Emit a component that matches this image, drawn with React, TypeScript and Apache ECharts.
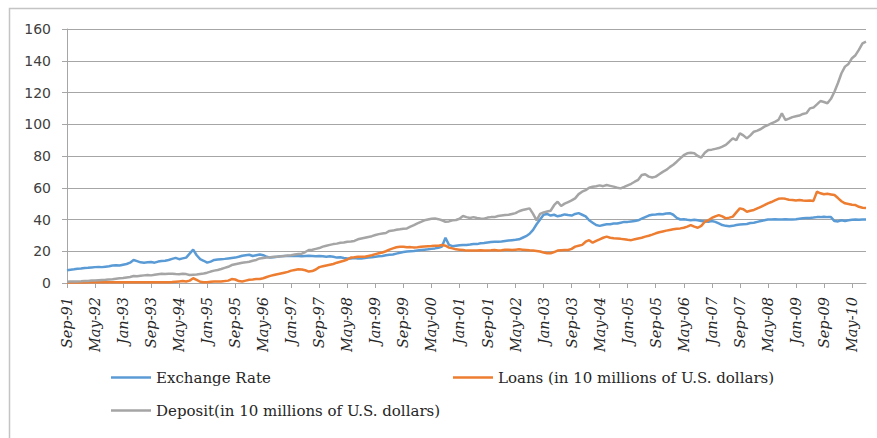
import React, { useEffect, useRef } from "react";
import * as echarts from "echarts";

const MONTHS = ["Jan", "Feb", "Mar", "Apr", "May", "Jun", "Jul", "Aug", "Sep", "Oct", "Nov", "Dec"];
// Monthly categories Sep-91 .. Sep-10
const categories: string[] = [];
for (let i = 0; i < 229; i++) {
  const k = 8 + i;
  const yr = (91 + Math.floor(k / 12)) % 100;
  categories.push(MONTHS[k % 12] + "-" + (yr < 10 ? "0" + yr : String(yr)));
}

const yTicks = [0, 20, 40, 60, 80, 100, 120, 140, 160];

const exchangeRate = [
  8.0, 8.3, 8.6, 9.0,
  9.2, 9.5, 9.6, 9.8, 10.0, 10.1, 10.0, 10.3, 10.6, 11.0, 11.2, 11.0,
  11.5, 12.0, 12.8, 14.5, 13.8, 13.0, 12.8, 13.0, 13.2, 12.8, 13.5, 13.8,
  14.0, 14.5, 15.2, 15.8, 15.0, 15.5, 16.0, 18.5, 21.0, 17.5, 15.0, 14.0,
  12.8, 13.5, 14.5, 14.8, 15.0, 15.2, 15.5, 15.8, 16.0, 16.5, 17.2, 17.5,
  17.8, 17.0, 17.5, 18.0, 17.5, 16.5, 16.0, 16.2, 16.5, 16.8, 17.0, 17.0,
  17.0, 17.2, 17.0, 16.8, 17.0, 17.2, 17.0, 16.8, 17.0, 16.8, 16.5, 16.8,
  16.5, 16.0, 16.2, 15.8, 15.5, 15.5, 15.8, 15.5, 15.5, 15.8, 16.0, 16.2,
  16.5, 16.8, 17.0, 17.5, 17.8, 18.0, 18.5, 19.0, 19.5, 19.8, 20.0, 20.2,
  20.5, 20.8, 21.0, 21.2, 21.5, 21.8, 22.2, 23.0, 28.5, 24.0, 23.2, 23.5,
  23.8, 24.0, 24.0, 24.2, 24.5, 24.5, 25.0, 25.2, 25.5, 25.8, 26.0, 26.0,
  26.2, 26.5, 26.8, 27.0, 27.2, 27.5, 28.5, 29.5, 31.0, 33.5, 37.0, 40.0,
  43.0, 43.5, 42.5, 43.0, 42.0, 42.5, 43.2, 42.8, 42.5, 43.5, 44.0, 43.0,
  42.0, 39.5, 38.0, 36.5, 36.0, 36.5, 37.0, 37.0, 37.5, 37.5, 38.0, 38.5,
  38.5, 38.8, 39.0, 39.5, 40.5, 41.5, 42.5, 43.0, 43.2, 43.5, 43.3, 43.8,
  44.0, 43.0, 41.0, 40.0, 40.2, 39.8, 39.5, 39.8, 39.5, 39.0, 38.8, 38.5,
  39.0, 38.5, 37.5, 36.5, 36.0, 35.8, 36.0, 36.5, 36.8, 37.0, 37.2, 37.8,
  38.0, 38.5, 39.0, 39.5, 40.0, 40.0, 40.2, 40.0, 40.0, 40.2, 40.0, 40.0,
  40.2, 40.5, 40.8, 41.0, 41.0, 41.2, 41.5, 41.5, 41.8, 41.5, 41.5, 39.0,
  38.8, 39.5, 39.0, 39.5, 39.8, 40.0, 39.8, 40.0, 40.0,
];

const loans = [
  0.3, 0.3, 0.3, 0.3,
  0.3, 0.3, 0.4, 0.4, 0.4, 0.4, 0.4, 0.4, 0.5, 0.5, 0.5, 0.5,
  0.5, 0.5, 0.5, 0.5, 0.5, 0.5, 0.5, 0.5, 0.5, 0.5, 0.5, 0.5,
  0.5, 0.5, 0.6, 0.8, 1.0, 1.2, 1.0, 1.5, 3.0, 2.0, 0.8, 0.5,
  0.5, 0.8, 1.0, 1.0, 1.0, 1.2, 1.5, 2.5, 2.2, 1.2, 1.0, 1.5,
  2.0, 2.2, 2.5, 2.5, 3.0, 3.8, 4.5, 5.0, 5.5, 6.0, 6.5, 7.0,
  7.8, 8.2, 8.6, 8.5, 8.0, 7.2, 7.5, 8.5, 10.0, 10.5, 11.0, 11.5,
  12.0, 12.8, 13.4, 14.0, 14.8, 16.0, 16.2, 16.5, 16.6, 16.5, 17.0, 17.5,
  18.2, 18.7, 19.2, 20.0, 21.0, 21.8, 22.5, 22.8, 22.9, 22.5, 22.6, 22.4,
  22.5, 22.8, 23.0, 23.2, 23.3, 23.5, 23.5, 23.9, 23.5, 22.3, 21.8, 21.2,
  21.0, 20.8, 20.4, 20.5, 20.4, 20.5, 20.6, 20.4, 20.5, 20.6, 20.8, 20.5,
  20.7, 21.0, 21.0, 20.8, 21.0, 21.2, 21.0, 20.8, 20.6, 20.5, 20.2, 19.8,
  19.2, 18.8, 18.7, 19.5, 20.4, 20.6, 20.8, 20.8, 21.5, 22.9, 23.5, 24.0,
  26.0, 27.0, 25.4, 26.5, 27.5, 28.5, 29.2, 28.5, 28.2, 28.0, 27.8, 27.5,
  27.2, 27.0, 27.5, 28.0, 28.5, 29.2, 29.8, 30.5, 31.3, 32.0, 32.5, 33.0,
  33.4, 33.8, 34.2, 34.4, 34.8, 35.5, 36.5, 35.5, 34.8, 36.0, 38.6, 39.5,
  41.0, 42.0, 42.8, 42.0, 40.7, 41.2, 41.8, 44.5, 47.0, 46.5, 44.9, 45.5,
  46.0, 47.0, 48.0, 49.0, 50.2, 51.0, 52.0, 53.0, 53.3, 53.0, 52.5, 52.3,
  52.0, 52.3, 52.0, 51.8, 52.0, 51.7, 57.5, 56.5, 55.9, 56.2, 55.8, 55.4,
  53.5, 51.5, 50.2, 49.8, 49.3, 49.1, 48.0, 47.4, 47.2,
];

const deposit = [
  0.8, 0.9, 1.0, 1.0,
  1.1, 1.2, 1.3, 1.5, 1.6, 1.8, 1.9, 2.0, 2.2, 2.4, 2.7, 3.0,
  3.2, 3.5, 3.8, 4.4, 4.2, 4.5, 4.8, 5.0, 4.8, 5.2, 5.5, 5.8,
  5.7, 5.9, 5.8, 5.6, 5.5, 5.8, 5.6, 5.0, 5.2, 5.4, 5.7, 6.0,
  6.5, 7.2, 7.8, 8.2, 8.8, 9.5, 10.2, 11.3, 11.8, 12.3, 12.8, 13.0,
  13.4, 14.0, 14.5, 15.5, 15.8, 16.0, 16.2, 16.5, 16.6, 16.8, 17.0, 17.3,
  17.5, 18.0, 18.3, 18.5, 19.5, 20.8, 21.0, 21.5, 22.0, 22.9, 23.5, 24.0,
  24.5, 24.8, 25.4, 25.5, 26.0, 26.2, 26.5, 27.5, 28.0, 28.5, 29.0, 29.5,
  30.2, 30.8, 31.2, 31.5, 32.8, 33.0, 33.5, 33.8, 34.2, 34.4, 35.5, 36.5,
  37.6, 38.5, 39.5, 40.0, 40.5, 40.7, 40.2, 39.5, 38.6, 38.8, 39.5, 39.7,
  40.5, 42.2, 41.5, 41.0, 41.5, 41.0, 40.7, 40.5, 41.2, 41.5, 41.5, 42.2,
  42.5, 42.8, 43.0, 43.5, 44.0, 45.2, 46.0, 46.5, 47.0, 43.5, 39.5, 43.5,
  44.5, 45.0, 45.5, 49.0, 51.2, 48.5, 50.0, 51.0, 52.0, 53.3, 56.0, 57.5,
  58.5, 60.0, 60.7, 61.0, 61.5, 61.0, 61.7, 61.2, 60.7, 60.0, 59.6, 60.5,
  61.5, 62.5, 63.8, 65.0, 68.0, 68.5, 67.0, 66.5, 67.0, 68.5, 70.0, 71.2,
  73.0, 74.5, 76.4, 78.5, 80.5, 81.7, 82.0, 81.7, 80.0, 79.0, 82.0, 83.8,
  84.0, 84.5, 85.0, 85.9, 87.0, 89.0, 91.1, 90.0, 94.3, 93.0, 91.1, 93.0,
  95.3, 96.0, 97.0, 98.5, 99.5, 100.5, 101.5, 102.7, 106.9, 102.7, 103.5, 104.5,
  105.0, 105.5, 106.5, 107.0, 110.0, 110.5, 112.5, 114.6, 114.0, 113.2, 116.0, 120.5,
  126.0, 132.1, 136.3, 138.0, 141.6, 143.5, 147.0, 151.0, 152.0,
];

const seriesNames = [
  "Exchange Rate",
  "Loans (in 10 millions of U.S. dollars)",
  "Deposit(in 10 millions of U.S. dollars)",
];
const seriesColors = ["#5B9BD5", "#ED7D31", "#A5A5A5"];

export default function App() {
  const ref = useRef<HTMLDivElement>(null);
  useEffect(() => {
    document.body.style.margin = "0";
    if (!ref.current) return;
    const chart = echarts.init(ref.current, undefined, { renderer: "svg" });
    const legendText = { fontFamily: "DejaVu Serif", fontSize: 15, color: "#262626" };
    const legendBase = {
      icon: "rect",
      itemWidth: 40,
      itemHeight: 2.5,
      itemGap: 0,
      padding: 0,
      textStyle: legendText,
      selectedMode: false,
    };
    chart.setOption({
      animation: false,
      backgroundColor: "#ffffff",
      graphic: [
        {
          type: "rect",
          shape: { x: 9.5, y: 8.5, width: 900, height: 460 },
          style: { fill: "none", stroke: "#c4c4c4", lineWidth: 1.5 },
          silent: true,
        },
      ],
      grid: { left: 67, top: 29, right: 11, bottom: 155, containLabel: false },
      legend: [
        { ...legendBase, data: [seriesNames[0]], left: 111, top: 370 },
        { ...legendBase, data: [seriesNames[1]], left: 453, top: 370 },
        { ...legendBase, data: [seriesNames[2]], left: 111, top: 403 },
      ],
      xAxis: {
        type: "category",
        data: categories,
        boundaryGap: false,
        axisLine: { show: true, lineStyle: { color: "#a6a6a6", width: 1 } },
        axisTick: { show: true, interval: 7, length: 5, lineStyle: { color: "#a6a6a6" } },
        axisLabel: {
          interval: 7,
          rotate: 90,
          margin: 14,
          fontFamily: "DejaVu Serif",
          fontStyle: "italic",
          fontSize: 14.5,
          color: "#262626",
        },
        splitLine: { show: false },
      },
      yAxis: {
        type: "value",
        min: yTicks[0],
        max: yTicks[yTicks.length - 1],
        interval: 20,
        axisLine: { show: true, lineStyle: { color: "#a6a6a6", width: 1 } },
        axisTick: { show: true, length: 5, lineStyle: { color: "#a6a6a6" } },
        axisLabel: {
          margin: 16,
          fontFamily: "DejaVu Sans",
          fontSize: 14,
          color: "#404040",
        },
        splitLine: { show: true, lineStyle: { color: "#a6a6a6", width: 1 } },
      },
      series: [exchangeRate, loans, deposit].map((d, i) => ({
        name: seriesNames[i],
        type: "line",
        data: d,
        showSymbol: false,
        symbol: "none",
        color: seriesColors[i],
        lineStyle: { color: seriesColors[i], width: 2.5 },
      })),
    });
    return () => chart.dispose();
  }, []);
  return <div ref={ref} style={{ width: 877, height: 438 }} />;
}
